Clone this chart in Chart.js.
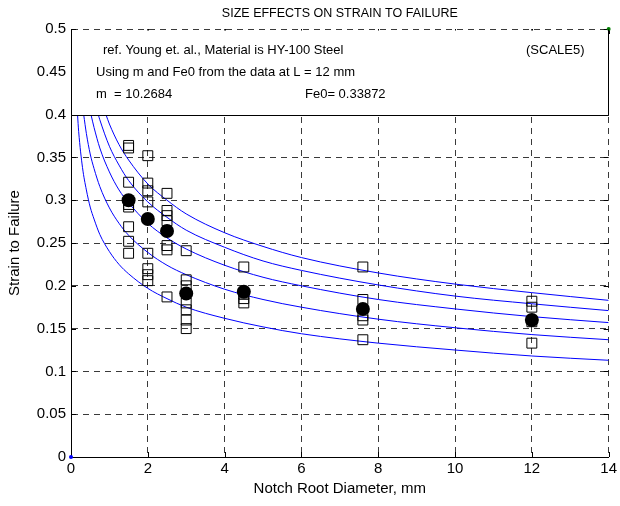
<!DOCTYPE html>
<html>
<head>
<meta charset="utf-8">
<script src="https://cdn.jsdelivr.net/npm/chart.js@4/dist/chart.umd.min.js"></script>
<style>
  html, body { margin: 0; padding: 0; background: #fff; }
  #wrap { width: 620px; height: 506px; }
</style>
</head>
<body>
<div id="wrap"><canvas id="chart" width="620" height="506"></canvas></div>
<script>
// size effect on strain to failure - HY-100 notch data + scaling curves

const xTicks = [0, 2, 4, 6, 8, 10, 12, 14];
const xTickLabels = ['0', '2', '4', '6', '8', '10', '12', '14'];
const yTicks = [0, 0.05, 0.1, 0.15, 0.2, 0.25, 0.3, 0.35, 0.4, 0.45, 0.5];
const yTickLabels = ['0', '0.05', '0.1', '0.15', '0.2', '0.25', '0.3', '0.35', '0.4', '0.45', '0.5'];

// test points (open squares)
const squareX = [
  1.5, 1.5, 1.5, 1.5, 1.5, 1.5, 1.5, 1.5,
  2, 2, 2, 2, 2, 2, 2, 2,
  2.5, 2.5, 2.5, 2.5, 2.5, 2.5, 2.5,
  3, 3, 3, 3, 3, 3, 3,
  4.5, 4.5, 4.5, 4.5,
  7.6, 7.6, 7.6, 7.6, 7.6,
  12, 12, 12, 12
];
const squareY = [
  0.364, 0.361, 0.321, 0.295, 0.292, 0.269, 0.252, 0.238,
  0.352, 0.320, 0.311, 0.298, 0.238, 0.220, 0.213, 0.206,
  0.308, 0.288, 0.282, 0.276, 0.247, 0.242, 0.187,
  0.241, 0.207, 0.200, 0.180, 0.172, 0.160, 0.150,
  0.222, 0.190, 0.185, 0.180,
  0.222, 0.184, 0.165, 0.160, 0.137,
  0.182, 0.175, 0.158, 0.133
];

// mean values (filled dots)
const dotX = [1.5, 2, 2.5, 3, 4.5, 7.6, 12];
const dotY = [0.300, 0.278, 0.264, 0.191, 0.193, 0.173, 0.160];

// scaling curves
const curve1X = [0.91, 1, 1.25, 1.5, 2, 2.5, 3, 4, 5, 6, 8, 10, 12, 14];
const curve1Y = [0.400, 0.389, 0.365, 0.347, 0.319, 0.300, 0.284, 0.262, 0.246, 0.233, 0.215, 0.202, 0.192, 0.183];
const curve2X = [0.71, 0.75, 1, 1.25, 1.5, 2, 2.5, 3, 4, 5, 6, 8, 10, 12, 14];
const curve2Y = [0.400, 0.394, 0.363, 0.341, 0.323, 0.298, 0.280, 0.265, 0.245, 0.229, 0.218, 0.201, 0.188, 0.179, 0.171];
const curve3X = [0.52, 0.6, 0.75, 1, 1.25, 1.5, 2, 2.5, 3, 4, 5, 6, 8, 10, 12, 14];
const curve3Y = [0.400, 0.385, 0.361, 0.333, 0.312, 0.297, 0.273, 0.256, 0.243, 0.224, 0.210, 0.200, 0.184, 0.173, 0.164, 0.157];
const curve4X = [0.33, 0.4, 0.5, 0.6, 0.75, 1, 1.25, 1.5, 2, 2.5, 3, 4, 5, 6, 8, 10, 12, 14];
const curve4Y = [0.400, 0.378, 0.354, 0.337, 0.316, 0.291, 0.273, 0.259, 0.239, 0.224, 0.213, 0.196, 0.184, 0.175, 0.161, 0.151, 0.143, 0.137];
const curve5X = [0.17, 0.2, 0.3, 0.4, 0.5, 0.6, 0.75, 1, 1.25, 1.5, 2, 2.5, 3, 4, 5, 6, 8, 10, 12, 14];
const curve5Y = [0.400, 0.380, 0.338, 0.312, 0.292, 0.278, 0.260, 0.240, 0.225, 0.214, 0.197, 0.185, 0.175, 0.162, 0.152, 0.144, 0.133, 0.125, 0.118, 0.113];

// stray marker points in the corners
const cornerX = [14, 0];
const cornerY = [0.5, 0];

const titleText = 'SIZE EFFECTS ON STRAIN TO FAILURE';
const xTitle = 'Notch Root Diameter, mm';
const yTitle = 'Strain to Failure';
const noteTop = 0.5;
const noteBottom = 0.4;
const noteLines = [
  { text: 'ref. Young et. al., Material is HY-100 Steel', dx: 32, dy: 21 },
  { text: '(SCALE5)', dx: 455, dy: 21 },
  { text: 'Using m and Fe0 from the data at L = 12 mm', dx: 25, dy: 43 },
  { text: 'm  = 10.2684', dx: 25, dy: 65 },
  { text: 'Fe0= 0.33872', dx: 234, dy: 65 }
];

const FONT = '"Liberation Sans", Arial, Helvetica, sans-serif';

function pts(xs, ys) {
  return xs.map((x, i) => ({ x, y: ys[i] }));
}

function curve(xs, ys) {
  return {
    data: pts(xs, ys),
    showLine: true,
    borderColor: '#0000ff',
    borderWidth: 1,
    pointRadius: 0,
    cubicInterpolationMode: 'monotone',
    fill: false
  };
}

// small inward tick marks on all four sides
const innerTicks = {
  id: 'innerTicks',
  beforeDatasetsDraw(chart) {
    const { ctx, chartArea: a, scales: { x, y } } = chart;
    ctx.save();
    ctx.strokeStyle = '#000';
    ctx.lineWidth = 1;
    ctx.beginPath();
    xTicks.forEach(v => {
      const px = Math.round(x.getPixelForValue(v)) + 0.5;
      ctx.moveTo(px, a.bottom); ctx.lineTo(px, a.bottom - 5);
      ctx.moveTo(px, a.top); ctx.lineTo(px, a.top + 5);
    });
    yTicks.forEach(v => {
      const py = Math.round(y.getPixelForValue(v)) + 0.5;
      ctx.moveTo(a.left, py); ctx.lineTo(a.left + 5, py);
      ctx.moveTo(a.right, py); ctx.lineTo(a.right - 5, py);
    });
    ctx.stroke();
    ctx.restore();
  }
};

// white note box across the top of the axes
const noteBox = {
  id: 'noteBox',
  afterDatasetsDraw(chart) {
    const { ctx, chartArea: a, scales: { y } } = chart;
    const top = Math.round(y.getPixelForValue(noteTop)) + 0.5;
    const bottom = Math.round(y.getPixelForValue(noteBottom)) + 0.5;
    const left = Math.round(a.left) + 0.5;
    const right = Math.round(a.right) - 0.5;
    ctx.save();
    ctx.fillStyle = '#fff';
    ctx.fillRect(left, top + 1, right - left, bottom - top - 1);
    ctx.strokeStyle = '#000';
    ctx.lineWidth = 1;
    ctx.beginPath();
    ctx.moveTo(left, top); ctx.lineTo(left, bottom);
    ctx.lineTo(right, bottom); ctx.lineTo(right, top);
    ctx.stroke();
    ctx.fillStyle = '#000';
    ctx.font = '13px ' + FONT;
    ctx.textBaseline = 'middle';
    ctx.textAlign = 'left';
    noteLines.forEach(l => ctx.fillText(l.text, a.left + l.dx, top + l.dy));
    ctx.restore();
  }
};

const gridStyle = {
  color: '#3a3a3a',
  lineWidth: 1,
  drawTicks: false
};

new Chart(document.getElementById('chart'), {
  type: 'scatter',
  data: {
    datasets: [
      {
        data: pts(dotX, dotY),
        pointStyle: 'circle',
        pointRadius: 7,
        pointBackgroundColor: '#000',
        pointBorderColor: '#000',
        pointBorderWidth: 0
      },
      {
        data: pts(squareX, squareY),
        pointStyle: 'rect',
        pointRadius: 7,
        pointBackgroundColor: 'rgba(0,0,0,0)',
        pointBorderColor: '#000',
        pointBorderWidth: 1
      },
      curve(curve1X, curve1Y),
      curve(curve2X, curve2Y),
      curve(curve3X, curve3Y),
      curve(curve4X, curve4Y),
      curve(curve5X, curve5Y),
      {
        data: pts(cornerX, cornerY),
        pointRadius: 2,
        pointBorderWidth: 0,
        pointBackgroundColor: ['#008000', '#0000ff'],
        clip: false
      }
    ]
  },
  options: {
    responsive: false,
    animation: false,
    events: [],
    layout: { padding: { left: 0, right: 10, top: 0, bottom: 0 } },
    plugins: {
      legend: { display: false },
      tooltip: { enabled: false },
      title: {
        display: true,
        text: titleText,
        fullSize: false,
        color: '#000',
        font: { family: FONT, size: 12.5, weight: 'normal' },
        padding: { top: 6, bottom: 8 }
      }
    },
    scales: {
      x: {
        type: 'linear',
        min: 0,
        max: 14,
        afterBuildTicks: s => { s.ticks = xTicks.map(v => ({ value: v })); },
        afterFit: s => { s.height = 49; },
        grid: gridStyle,
        border: { display: true, color: '#000', width: 1, dash: [6, 5] },
        ticks: {
          color: '#000',
          padding: 3,
          maxRotation: 0,
          font: { family: FONT, size: 15 },
          callback: (v, i) => xTickLabels[i]
        },
        title: {
          display: true,
          text: xTitle,
          color: '#000',
          font: { family: FONT, size: 15 },
          padding: { top: 0, bottom: 8 }
        }
      },
      y: {
        type: 'linear',
        min: 0,
        max: 0.5,
        afterBuildTicks: s => { s.ticks = yTicks.map(v => ({ value: v })); },
        afterFit: s => { s.width = 71; },
        grid: gridStyle,
        border: { display: true, color: '#000', width: 1, dash: [6, 5] },
        ticks: {
          color: '#000',
          padding: 5,
          font: { family: FONT, size: 15 },
          callback: (v, i) => yTickLabels[i]
        },
        title: {
          display: true,
          text: yTitle,
          color: '#000',
          font: { family: FONT, size: 15 },
          padding: { top: 6, bottom: 0 }
        }
      }
    }
  },
  plugins: [innerTicks, noteBox]
});
</script>
</body>
</html>
